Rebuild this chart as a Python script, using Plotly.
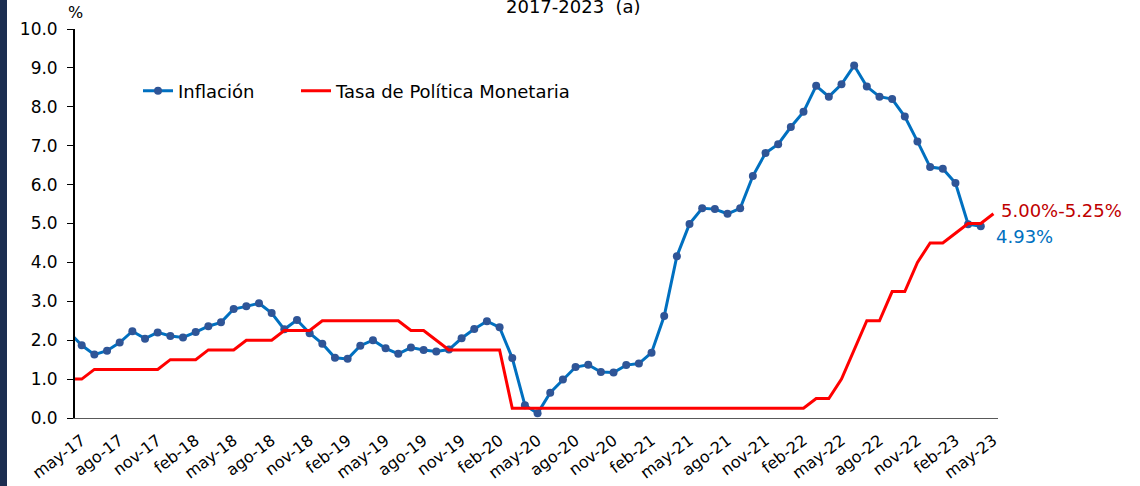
import plotly.graph_objects as go

# Month categories (abr-17 .. may-23)
meses_abbr = ["ene", "feb", "mar", "abr", "may", "jun", "jul", "ago", "sep", "oct", "nov", "dic"]
months = []
y, m = 2017, 4
while (y, m) <= (2023, 5):
    months.append(f"{meses_abbr[m-1]}-{str(y)[2:]}")
    m += 1
    if m > 12:
        m = 1
        y += 1

# Inflation (abr-17 .. abr-23), %
inflacion = [
    2.20, 1.87, 1.63, 1.73, 1.94, 2.23, 2.04, 2.20, 2.11,          # 2017 abr-dic
    2.07, 2.21, 2.36, 2.46, 2.80, 2.87, 2.95, 2.70, 2.28, 2.52, 2.18, 1.91,  # 2018
    1.55, 1.52, 1.86, 2.00, 1.79, 1.65, 1.81, 1.75, 1.71, 1.76, 2.05, 2.29,  # 2019
    2.49, 2.33, 1.54, 0.33, 0.12, 0.65, 0.99, 1.31, 1.37, 1.18, 1.17, 1.36,  # 2020
    1.40, 1.68, 2.62, 4.16, 4.99, 5.39, 5.37, 5.25, 5.39, 6.22, 6.81, 7.04,  # 2021
    7.48, 7.87, 8.54, 8.26, 8.58, 9.06, 8.52, 8.26, 8.20, 7.75, 7.11, 6.45,  # 2022
    6.41, 6.04, 4.98, 4.93,                                          # 2023 ene-abr
]

# Policy rate, upper bound (abr-17 .. may-23), %
tasa = [
    1.00, 1.00, 1.25, 1.25, 1.25, 1.25, 1.25, 1.25, 1.50,          # 2017 abr-dic
    1.50, 1.50, 1.75, 1.75, 1.75, 2.00, 2.00, 2.00, 2.25, 2.25, 2.25, 2.50,  # 2018
    2.50, 2.50, 2.50, 2.50, 2.50, 2.50, 2.25, 2.25, 2.00, 1.75, 1.75, 1.75,  # 2019
    1.75, 1.75, 0.25, 0.25, 0.25, 0.25, 0.25, 0.25, 0.25, 0.25, 0.25, 0.25,  # 2020
    0.25, 0.25, 0.25, 0.25, 0.25, 0.25, 0.25, 0.25, 0.25, 0.25, 0.25, 0.25,  # 2021
    0.25, 0.25, 0.50, 0.50, 1.00, 1.75, 2.50, 2.50, 3.25, 3.25, 4.00, 4.50,  # 2022
    4.50, 4.75, 5.00, 5.00, 5.25,                                    # 2023 ene-may
]

tick_labels = months[1::3]
y_ticks = [0, 1, 2, 3, 4, 5, 6, 7, 8, 9, 10]
y_tick_text = [f"{v:.1f}" for v in y_ticks]

FONT = "DejaVu Sans"
W, H = 1140, 486
L, R, T, B = 75, 142, 29, 68
pw = W - L - R
ph = H - T - B

fig = go.Figure()
fig.add_trace(go.Scatter(
    x=months[:len(inflacion)], y=inflacion, name="Inflación",
    mode="lines+markers",
    line=dict(color="#0070C0", width=3),
    marker=dict(color="#2F5597", size=8),
    legend="legend",
))
fig.add_trace(go.Scatter(
    x=months[:len(tasa)], y=tasa, name="Tasa de Política Monetaria",
    mode="lines",
    line=dict(color="#FF0000", width=3),
    legend="legend2",
))

legend_common = dict(
    orientation="h", yanchor="middle", xanchor="left",
    bgcolor="rgba(0,0,0,0)", borderwidth=0,
    font=dict(family=FONT, size=18, color="#000000"),
)

fig.update_layout(
    width=W, height=H,
    margin=dict(l=L, r=R, t=T, b=B, pad=0, autoexpand=False),
    paper_bgcolor="white", plot_bgcolor="white",
    font=dict(family=FONT, size=17, color="#000000"),
    showlegend=True,
    legend=dict(x=(138 - L) / pw, y=(418 - 91) / ph, **legend_common),
    legend2=dict(x=(296 - L) / pw, y=(418 - 91) / ph, **legend_common),
    xaxis=dict(
        type="category", categoryorder="array", categoryarray=months,
        range=[0.47, 73.36], automargin=False,
        tickmode="array", tickvals=tick_labels, ticktext=tick_labels,
        tickangle=-37, ticks="", showgrid=False, zeroline=False,
        showline=True, linecolor="#595959", linewidth=1.3,
        tickfont=dict(family=FONT, size=16, color="#000000"),
        ticklabelstandoff=6,
    ),
    yaxis=dict(
        range=[0, 10], tickmode="array", tickvals=y_ticks, ticktext=y_tick_text,
        automargin=False,
        ticks="outside", ticklen=6, tickcolor="#000000", tickwidth=1.3,
        showgrid=False, zeroline=False,
        showline=True, linecolor="#000000", linewidth=1.8,
        tickfont=dict(family=FONT, size=17, color="#000000"),
        ticklabelstandoff=6,
    ),
)

# % label above y axis
fig.add_annotation(text="%", xref="paper", yref="paper", x=0.0, y=1.0,
                   xanchor="center", yanchor="bottom", yshift=5, showarrow=False,
                   font=dict(family=FONT, size=16, color="#000000"))
# Partially visible title at top
fig.add_annotation(text="2017-2023  (a)", xref="paper", yref="paper",
                   x=(573 - L) / pw, y=1.0, xanchor="center", yanchor="middle",
                   yshift=T - 6, showarrow=False,
                   font=dict(family=FONT, size=18, color="#000000"))
# End labels
fig.add_annotation(text="5.00%-5.25%", xref="paper", yref="paper",
                   x=(999 - L) / pw, y=(418 - 210) / ph,
                   xanchor="left", yanchor="middle", showarrow=False,
                   font=dict(family=FONT, size=18, color="#C00000"))
fig.add_annotation(text="4.93%", xref="paper", yref="paper",
                   x=(994 - L) / pw, y=(418 - 236) / ph,
                   xanchor="left", yanchor="middle", showarrow=False,
                   font=dict(family=FONT, size=18, color="#0070C0"))

# Dark stripe at left edge
fig.add_shape(type="rect", xref="paper", yref="paper",
              x0=(0 - L) / pw, x1=(7 - L) / pw, y0=-B / ph, y1=(H - B) / ph,
              fillcolor="#1B2D50", line=dict(width=0), layer="below")

fig.write_html(
    "out.html",
    config={"displayModeBar": False},
    post_script="document.body.style.margin='0';document.body.style.overflow='hidden';",
)
